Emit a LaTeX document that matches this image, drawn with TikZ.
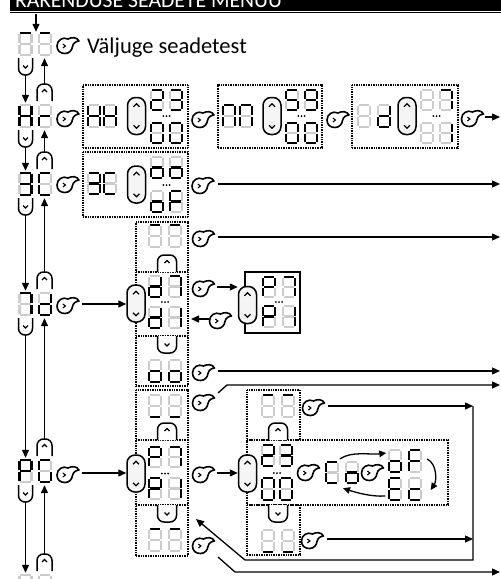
\documentclass[tikz,border=0pt]{standalone}
\usepackage{fontspec}
\setmainfont{Carlito}
\usetikzlibrary{arrows.meta}

\definecolor{segoff}{gray}{0.8}

\tikzset{
  arr/.style={line width=1.3pt, -{Triangle[length=8pt,width=7pt]}},
  carr/.style={line width=1.3pt, -{Triangle[length=7pt,width=6.5pt]}},
  seg0/.style={line width=2.8pt, draw=segoff},
  seg1/.style={line width=2.8pt, draw=black},
  btn/.style={line width=1.5pt, rounded corners=6.5pt},
  chev/.style={line width=1.1pt},
  dotbox/.style={draw, line width=1.4pt, dash pattern=on 1pt off 0.7pt, inner sep=0pt},
  dotline/.style={line width=1.4pt, dash pattern=on 1pt off 0.7pt},
  updown/.style={draw, line width=1.5pt, fill=gray!8, rounded corners=8pt,
    minimum width=18pt, minimum height=37pt, inner sep=0pt},
  pair/.style={minimum width=34pt, minimum height=24pt, inner sep=0pt},
  pics/setkey/.style={code={
    \draw[line width=1.6pt, fill=white, line join=round]
      (3.5,-5) .. controls (-1.5,-7.5) and (-7.5,-4) .. (-7.5,2)
      .. controls (-7.5,7) and (-4,9.5) .. (0.5,9.5)
      .. controls (5,9.5) and (7.5,6) .. (8,2.5)
      .. controls (8.8,-1) and (11,-2.5) .. (14.5,-3)
      .. controls (12.5,-6.8) and (7.5,-7.2) .. (3.5,-5) -- cycle;
    \draw[line width=1.1pt] (-1.6,0) -- (0.9,2) -- (-1.6,4);
  }}
}

% seven segment digit: top-left x, top-left y, height, segments abcdefg
\def\segw{12}
\def\segdraw#1#2#3#4#5#6#7\relax{%
  \draw[seg#1] (0.9,0) -- (\segw-0.9,0);
  \draw[seg#2] (\segw,0.9) -- (\segw,\segh/2-0.9);
  \draw[seg#3] (\segw,\segh/2+0.9) -- (\segw,\segh-0.9);
  \draw[seg#4] (0.9,\segh) -- (\segw-0.9,\segh);
  \draw[seg#5] (0,\segh/2+0.9) -- (0,\segh-0.9);
  \draw[seg#6] (0,0.9) -- (0,\segh/2-0.9);
  \draw[seg#7] (0.9,\segh/2) -- (\segw-0.9,\segh/2);}
\newcommand\sdig[4]{\def\segh{#3}%
  \begin{scope}[shift={(#1,#2)}]\segdraw#4\relax\end{scope}}
\newcommand\tdots[2]{\foreach \d in {-3.2,0,3.2}{\fill (#1+\d,#2) circle (1);}}
\newcommand\udbtn[3]{%
  \node[updown] (#1) at (#2,#3) {};
  \draw[chev] ([shift={(-3,10)}]#1.north) -- ++(3,-3) -- ++(3,3);
  \draw[chev] ([shift={(-3,-10)}]#1.south) -- ++(3,3) -- ++(3,-3);}
\newcommand\upbtn[3]{%
  \draw[btn, fill=white] (#1-#3/2,#2) -- (#1-#3/2,#2-17) -- (#1+#3/2,#2-17) -- (#1+#3/2,#2);
  \draw[chev] (#1-2.5,#2-9) -- (#1,#2-11.5) -- (#1+2.5,#2-9);}
\newcommand\dnbtn[3]{%
  \draw[btn, fill=white] (#1-#3/2,#2) -- (#1-#3/2,#2+17) -- (#1+#3/2,#2+17) -- (#1+#3/2,#2);
  \draw[chev] (#1-2.5,#2+7.5) -- (#1,#2+10) -- (#1+2.5,#2+7.5);}
\newcommand\keyicon[3]{\node[inner sep=0pt] (#1) at (#2,#3) {}; \pic at (#1) {setkey};}

\begin{document}
\begin{tikzpicture}[x=1pt, y=-1pt]
\useasboundingbox (0,0) rectangle (501,579);
\clip (0,0) rectangle (501,579);

% title
\fill (10,-5) rectangle (501,10.5);
\draw[line width=1.2pt] (10,12.6) -- (501,12.6);
\node[anchor=base west, text=white, inner sep=0pt, font=\fontsize{21.7}{26}\selectfont] (title) at (15,7.5) {RAKENDUSE SEADETE MENUU};
\coordinate (ttl) at (36,13.5);

% main menu column
\node[pair] (mA) at (35.25,44) {};
\node[pair] (mB) at (35.25,116) {};
\node[pair] (mC) at (35.25,184) {};
\node[pair] (mD) at (35.25,304) {};
\node[pair] (mE) at (35.25,471) {};
\node[pair] (mF) at (35.25,586) {};
\sdig{19.5}{33}{22}{1000000}\sdig{39}{33}{22}{1000000}
\sdig{19.5}{105}{22}{0110111}\sdig{39}{105}{22}{0000101}
\sdig{19.5}{173}{22}{1111001}\sdig{39}{173}{22}{1001110}
\sdig{19.5}{293}{22}{1110000}\sdig{39}{293}{22}{0111101}
\sdig{19.5}{460}{22}{1100111}\sdig{39}{460}{22}{1011110}
\sdig{19.5}{575}{22}{0000000}\sdig{39}{575}{22}{0000000}

\draw[arr] (ttl) -- (ttl |- mA.north);
\foreach \u/\l/\ut/\lb in {mA/mB/58/101, mB/mC/130/169, mC/mD/198/289, mD/mE/318/456, mE/mF/485/571}{
  \dnbtn{25.5}{\ut}{14}
  \upbtn{44.5}{\lb}{15}
  \draw[arr] ([shift={(-9.75,19)}]\u.south) -- ([shift={(-9.75,-1)}]\l.north);
  \draw[arr] ([shift={(9.25,-20)}]\l.north) -- ([shift={(9.25,2)}]\u.south);
}

\keyicon{kA}{64.5}{44}
\keyicon{kB}{64.5}{117}
\keyicon{kC}{64.5}{183}
\keyicon{kD}{64.5}{304}
\keyicon{kE}{64.5}{473}
\keyicon{kF}{64.5}{588}
\node[anchor=base west, inner sep=0pt, font=\fontsize{22.5}{27}\selectfont] (exitA) at (87,53) {Väljuge seadetest};
\node[anchor=base west, inner sep=0pt, font=\fontsize{22.5}{27}\selectfont] (exitF) at (87,596) {Väljuge seadetest};

% clock row
\node[dotbox, minimum width=105pt, minimum height=63pt] (setHr) at (135.5,116.5) {};
\node[dotbox, minimum width=104pt, minimum height=63pt] (setMn) at (270,116.5) {};
\node[dotbox, minimum width=106pt, minimum height=63pt] (setDy) at (405,116.5) {};
\sdig{88}{105}{22}{0110111}\sdig{104}{105}{22}{0110111}
\udbtn{udHr}{136.5}{116}
\sdig{151}{90}{20}{1101101}\sdig{170}{90}{20}{1111001}
\tdots{166.5}{116}
\sdig{151}{123}{20}{1111110}\sdig{170}{123}{20}{1111110}
\sdig{223}{105}{22}{1110110}\sdig{240}{105}{22}{1110110}
\udbtn{udMn}{272}{116}
\sdig{286}{90}{20}{1011011}\sdig{305}{90}{20}{1111011}
\tdots{301.5}{116}
\sdig{286}{123}{20}{1111110}\sdig{305}{123}{20}{1111110}
\sdig{358}{105}{22}{0000000}\sdig{378}{105}{22}{0111101}
\udbtn{udDy}{407}{116}
\sdig{421}{90}{20}{0000000}\sdig{440}{90}{20}{1110000}
\tdots{436.5}{116}
\sdig{421}{123}{20}{0000000}\sdig{440}{123}{20}{0110000}
\keyicon{kB1}{199.5}{118}
\keyicon{kB2}{334.5}{118}
\keyicon{kB3}{469}{117}
\coordinate (outB) at (500,117);
\draw[arr] ([shift={(16,0)}]kB3.center) -- (outB);

% 3C row
\node[dotbox, minimum width=105pt, minimum height=65pt] (setC) at (135.5,184.5) {};
\sdig{88}{173}{21}{1111001}\sdig{104}{173}{21}{1001110}
\udbtn{udC}{136.5}{184.5}
\sdig{151}{157}{21}{0011101}\sdig{170}{157}{21}{0011101}
\tdots{166.5}{185}
\sdig{151}{191}{21}{0011101}\sdig{170}{191}{21}{1000111}
\keyicon{kC1}{199.5}{184}
\coordinate (outC) at (500,184);
\draw[arr] ([shift={(18,0)}]kC1.center) -- (outC);

% 7d submenu
\node[dotbox, minimum width=52pt, minimum height=164pt] (colD) at (162,304) {};
\draw[dotline] (136,272) -- (188,272);
\draw[dotline] (136,336) -- (188,336);
\sdig{149}{225}{22}{1000000}\sdig{169}{225}{22}{1000000}
\upbtn{167}{272}{19}
\sdig{149}{276}{21}{0111101}\sdig{169}{276}{21}{1110000}
\tdots{165}{302}
\sdig{149}{307}{21}{0111101}\sdig{169}{307}{21}{0110000}
\dnbtn{167}{336}{19}
\sdig{149}{360}{22}{0011101}\sdig{169}{360}{22}{0011101}
\udbtn{udD}{136}{303.5}
\draw[arr] ([shift={(17,0)}]kD.center) -- (kD -| udD.west);

\node[draw, line width=1.2pt, minimum width=55pt, minimum height=61pt, inner sep=0pt] (pbox) at (272.5,302.5) {};
\sdig{263}{277}{20}{1100111}\sdig{283}{277}{20}{1110000}
\tdots{279}{302}
\sdig{263}{306}{21}{1100111}\sdig{283}{306}{21}{0110000}
\udbtn{udP}{247.5}{305}

\keyicon{kD1}{200}{237}
\keyicon{kD2}{200}{287}
\keyicon{kD3}{217}{319}
\keyicon{kD4}{200}{371}
\coordinate (outD1) at (500,237);
\coordinate (outD4) at (500,371);
\coordinate (dback) at (191,319);
\draw[arr] ([shift={(18,0)}]kD1.center) -- (outD1);
\draw[arr] ([shift={(17,0)}]kD2.center) -- (kD2 -| udP.west);
\draw[arr] ([shift={(-8.5,0)}]kD3.center) -- (dback);
\draw[arr] ([shift={(18,0)}]kD4.center) -- (outD4);

% PG submenu
\node[dotbox, minimum width=52pt, minimum height=166pt] (colE) at (162,473) {};
\draw[dotline] (136,440) -- (188,440);
\draw[dotline] (136,505) -- (188,505);
\sdig{149}{395}{22}{0001000}\sdig{169}{395}{22}{0001000}
\upbtn{167}{440}{19}
\sdig{149}{447}{20}{1100111}\sdig{169}{447}{20}{1110000}
\tdots{165}{473.5}
\sdig{149}{478}{21}{1100111}\sdig{169}{478}{21}{0110000}
\dnbtn{167}{505}{19}
\sdig{149}{529}{22}{1000000}\sdig{169}{529}{22}{1000000}
\udbtn{udE}{136}{473.5}
\draw[arr] ([shift={(17,0)}]kE.center) -- (kE -| udE.west);

% P7 time programme
\node[dotbox, minimum width=53pt, minimum height=50pt] (colWt) at (273.5,415) {};
\node[dotbox, minimum width=53pt, minimum height=50pt] (colWb) at (273.5,530) {};
\node[dotbox, minimum width=201pt, minimum height=65pt] (wide) at (347.5,472.5) {};
\sdig{262}{395}{22}{1000000}\sdig{282}{395}{22}{1000000}
\upbtn{278}{440}{19}
\sdig{262}{445}{21}{1101101}\sdig{280}{445}{21}{1111001}
\tdots{277}{473}
\sdig{262}{478}{22}{1111110}\sdig{280}{478}{22}{1111110}
\dnbtn{278}{505}{19}
\sdig{262}{530}{22}{0001000}\sdig{282}{530}{22}{0001000}
\udbtn{udW}{247.5}{473.5}

\node[pair, minimum width=33pt, minimum height=23pt] (dCo) at (342,472.5) {};
\node[pair, minimum width=33pt, minimum height=23pt] (dOF) at (405,461) {};
\node[pair, minimum width=33pt, minimum height=23pt] (dEC) at (405,489) {};
\sdig{326}{462}{21}{1001110}\sdig{346}{462}{21}{0011101}
\sdig{389}{450}{22}{0011101}\sdig{409}{450}{22}{1000111}
\sdig{389}{478}{22}{1001111}\sdig{409}{478}{22}{0001101}
\draw[carr] ([shift={(-2,-2)}]dCo.north) .. controls +(12,-8) and +(-16,2) .. ([shift={(-2,-8)}]dOF.west);
\draw[carr] ([shift={(5.5,-2)}]dOF.east) .. controls +(10,5) and +(6,-9) .. ([shift={(9,1)}]dEC.east);
\draw[carr] ([shift={(-3,7)}]dEC.west) .. controls +(-14,1) and +(12,4) .. ([shift={(1,4)}]dCo.south);

\keyicon{kE1}{200}{401}
\keyicon{kE2}{200}{473}
\keyicon{kE3}{200}{544}
\keyicon{kW1}{310}{406}
\keyicon{kW2}{305}{471}
\keyicon{kW3}{369}{471}
\keyicon{kW4}{309}{539}
\coordinate (outE1) at (500,385);
\coordinate (outE3) at (500,572);
\coordinate (vt) at (473,406);
\coordinate (vb) at (473,560);
\coordinate (rb) at (245,560);
\coordinate (ret) at (196,519);
\draw[arr] ([shift={(18,-8)}]kE1.center) -- ++(9,-8) -- (outE1);
\draw[arr] ([shift={(17,0)}]kE2.center) -- (kE2 -| udW.west);
\draw[arr] ([shift={(18,13)}]kE3.center) -- ++(17,15) -- (outE3);
\draw[arr] ([shift={(18,0)}]kW1.center) -- (kW1 -| vt);
\draw[arr] ([shift={(18,0)}]kW4.center) -- (kW4 -| vt);
\draw[arr] (vt) -- (vb) -- (rb) -- (ret);
\end{tikzpicture}
\end{document}
